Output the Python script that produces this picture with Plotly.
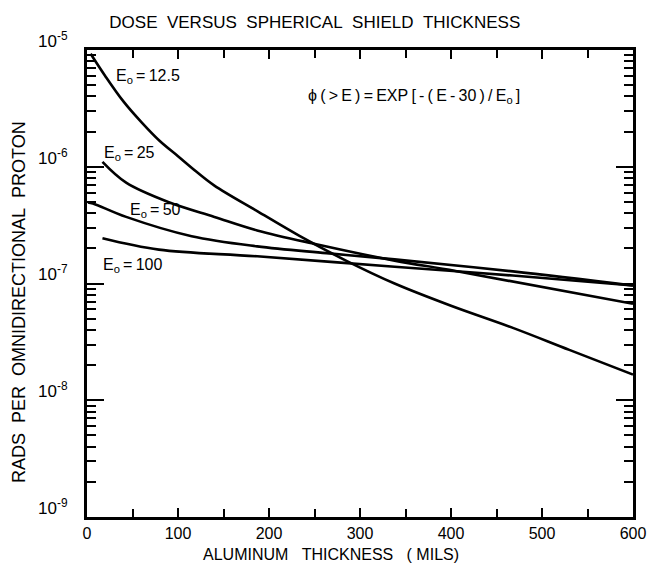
import math
import plotly.graph_objects as go

# ---- data ----
x_e125 = [4, 20, 40, 60, 80, 100, 120, 140, 187, 233, 284, 338, 400, 468, 530, 600]
y_e125 = [9.3e-6, 6.0e-6, 3.63e-6, 2.4e-6, 1.66e-6, 1.23e-6, 9.1e-7, 6.9e-7, 4.17e-7,
          2.57e-7, 1.58e-7, 1.0e-7, 6.45e-8, 4.17e-8, 2.7e-8, 1.66e-8]

x_e25 = [17, 43, 90, 140, 187, 252, 338, 405, 600]
y_e25 = [1.1e-6, 7.3e-7, 4.96e-7, 3.72e-7, 2.85e-7, 2.17e-7, 1.57e-7, 1.28e-7, 6.7e-8]

x_e50 = [1, 6.5, 43, 115, 187, 263, 338, 468, 600]
y_e50 = [4.95e-7, 4.85e-7, 3.72e-7, 2.54e-7, 2.08e-7, 1.82e-7, 1.61e-7, 1.27e-7, 9.6e-8]

x_e100 = [17, 79, 187, 338, 468, 600]
y_e100 = [2.44e-7, 1.95e-7, 1.71e-7, 1.39e-7, 1.17e-7, 9.6e-8]

x_ticks = [0, 100, 200, 300, 400, 500, 600]
x_ticktext = ["0", "100", "200", "300", "400", "500", "600"]
y_ticks = [1e-9, 1e-8, 1e-7, 1e-6, 1e-5]
y_ticktext = ["10<sup>-9</sup>", "10<sup>-8</sup>", "10<sup>-7</sup>", "10<sup>-6</sup>", "10<sup>-5</sup>"]

curve_labels = ["E<sub>o</sub>\u2009=\u200912.5", "E<sub>o</sub>\u2009=\u200925",
                "E<sub>o</sub>\u2009=\u200950", "E<sub>o</sub>\u2009=\u2009100"]
label_x = [30, 16, 45, 15]
label_y = [5.9e-6, 1.31e-6, 4.2e-7, 1.43e-7]

formula_text = "\u03d5\u2009(\u2009>\u2009E\u2009)\u2009=\u2009EXP\u2009[\u2009-\u2009(\u2009E\u2009-\u200930\u2009)\u2009/\u2009E<sub>o</sub>\u2009]"
formula_x = 241
formula_y = 3.98e-6
title_text = "DOSE\u00a0\u00a0VERSUS\u00a0\u00a0SPHERICAL\u00a0\u00a0SHIELD\u00a0\u00a0THICKNESS"
xtitle_text = "ALUMINUM\u00a0\u00a0\u00a0THICKNESS\u00a0\u00a0\u00a0(\u00a0MILS)"
ytitle_text = "RADS\u00a0\u00a0PER\u00a0\u00a0OMNIDIRECTIONAL\u00a0\u00a0PROTON"

FONT = "Liberation Sans"

# the page body adds an 8px margin, so the figure is sized to fit the 658x567 window
W, H = 650, 559

fig = go.Figure()
for xs, ys in [(x_e125, y_e125), (x_e25, y_e25), (x_e50, y_e50), (x_e100, y_e100)]:
    fig.add_trace(go.Scatter(x=xs, y=ys, mode="lines",
                             line=dict(color="black", width=2.6, shape="spline", smoothing=1.0),
                             showlegend=False, hoverinfo="skip"))

# annotations on a log axis take log10 positions
for t, lx, ly in zip(curve_labels, label_x, label_y):
    fig.add_annotation(x=lx, y=math.log10(ly), yref="y", xref="x", text=t, showarrow=False,
                       xanchor="left", yanchor="middle",
                       font=dict(family=FONT, size=16, color="black"))

fig.add_annotation(x=formula_x, y=math.log10(formula_y), xref="x", yref="y", text=formula_text,
                   showarrow=False, xanchor="left", yanchor="middle",
                   font=dict(family=FONT, size=16, color="black"))

fig.add_annotation(x=268, y=-0.058, xref="x", yref="paper", text=xtitle_text, showarrow=False,
                   xanchor="center", yanchor="top", font=dict(family=FONT, size=16, color="black"))
fig.add_annotation(x=-0.125, y=0.46, xref="paper", yref="paper", text=ytitle_text, showarrow=False,
                   textangle=-90, xanchor="center", yanchor="middle",
                   font=dict(family=FONT, size=18, color="black"))

fig.update_layout(
    width=W, height=H,
    margin=dict(l=79, r=16, t=42, b=50),
    paper_bgcolor="white", plot_bgcolor="white",
    title=dict(text=title_text, x=0.472, xref="container", xanchor="center",
               y=1 - 14 / H, yref="container", yanchor="middle",
               font=dict(family=FONT, size=17, color="black")),
    xaxis=dict(range=[0, 600], tickvals=x_ticks, ticktext=x_ticktext,
               ticks="inside", ticklen=9, tickwidth=2, tickcolor="black",
               minor=dict(dtick=50, ticks="inside", ticklen=8, tickwidth=2, tickcolor="black", showgrid=False),
               showline=True, linewidth=3, linecolor="black", mirror="ticks",
               showgrid=False, zeroline=False,
               tickfont=dict(family=FONT, size=16, color="black")),
    yaxis=dict(type="log", range=[-9, -5], tickvals=y_ticks, ticktext=y_ticktext,
               ticks="inside", ticklen=17, tickwidth=2, tickcolor="black",
               minor=dict(dtick="D1", ticks="inside", ticklen=9, tickwidth=2, tickcolor="black", showgrid=False),
               showline=True, linewidth=3, linecolor="black", mirror="ticks",
               showgrid=False, zeroline=False, ticklabelstandoff=13, ticklabelshift=-9,
               tickfont=dict(family=FONT, size=17, color="black")),
)

fig.write_html("out.html")
